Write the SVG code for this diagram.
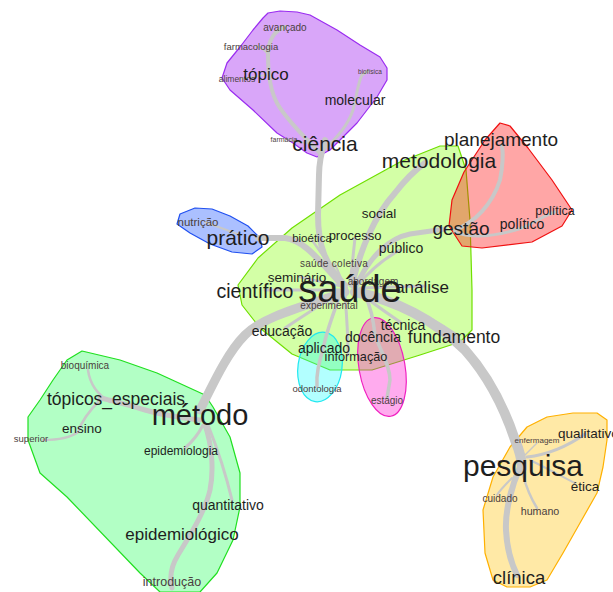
<svg xmlns="http://www.w3.org/2000/svg" width="613" height="592" viewBox="0 0 613 592">
<style>
.h{stroke-width:1.2;stroke-linejoin:round}
.e{fill:none;stroke:#c8c8c8;stroke-linecap:round;stroke-linejoin:round}
text{font-family:"Liberation Sans",Arial,sans-serif;fill:#1e1e1e;text-anchor:middle;dominant-baseline:central}
.s{fill:#4a4040}
</style>
<rect width="613" height="592" fill="#fff"/>
<g id="clusters">
<polygon id="hull-ciencia" class="h" fill="#a020f0" fill-opacity="0.4" stroke="#9a2cf0" points="268,13 280,11 297,12 310,15 337,30 360,45 380,57 387,68 387,80 377,97 367,110 357,123 343,137 330,150 317,157 307,153 293,143 277,133 253,110 230,90 222,78 227,63 240,47 253,30 263,18"/>
<polygon id="hull-pratico" class="h" fill="#0040ff" fill-opacity="0.33" stroke="#2050f0" points="180,214 195,208 212,209 230,216 248,226 260,238 262,247 252,254 232,252 210,244 190,233 177,224"/>
<polygon id="hull-saude" class="h" fill="#80ff00" fill-opacity="0.35" stroke="#70e000" points="238,285 258,258 292,228 340,195 400,162 440,146 458,146 466,170 470,220 472,290 472,330 460,342 420,355 372,370 330,370 292,354 260,328 242,305"/>
<polygon id="hull-gestao" class="h" fill="#ff0000" fill-opacity="0.35" stroke="#f01010" points="500,123 510,126 528,148 552,180 572,210 562,226 532,242 482,248 462,246 449,226 452,200 464,172 485,140"/>
<ellipse id="hull-aplicado" class="h" cx="320" cy="367" rx="22" ry="35" transform="rotate(8 320 367)" fill="#00ffff" fill-opacity="0.3" stroke="#20e8f0"/>
<ellipse id="hull-docencia" class="h" cx="382" cy="367" rx="23" ry="50" transform="rotate(-10 382 367)" fill="#ff00cc" fill-opacity="0.33" stroke="#f020c0"/>
<polygon id="hull-metodo" class="h" fill="#00ff40" fill-opacity="0.3" stroke="#20e020" points="82,351 120,360 157,373 205,395 213,407 230,437 240,473 240,507 233,540 217,573 200,592 160,592 140,573 67,497 40,473 28,440 28,417 40,400 53,380 67,360"/>
<polygon id="hull-pesquisa" class="h" fill="#ffc000" fill-opacity="0.35" stroke="#ffb000" points="573,413 597,413 607,420 607,440 603,467 597,493 580,523 563,553 547,580 530,587 507,587 493,580 485,553 483,510 493,477 510,447 527,427 547,417"/>
</g>
<g id="connectors">
<path class="e" stroke-width="6" d="M345,285 C325,265 318,245 318,215 L319,175 C319,160 322,150 325,140"/>
<path class="e" stroke-width="4" d="M320,153 C305,138 285,118 277,103 C270,90 268,70 268,55 C268,40 275,30 285,27"/>
<path class="e" stroke-width="2" d="M268,55 C265,50 262,47 256,46"/>
<path class="e" stroke-width="1.5" d="M266,75 L240,79"/>
<path class="e" stroke-width="3" d="M323,150 C335,140 348,125 353,110 C357,95 358,82 362,75 L368,71"/>
<path class="e" stroke-width="1.5" d="M315,145 L285,139"/>
<path class="e" stroke-width="6" d="M345,288 C320,262 305,240 285,238 L258,238"/>
<path class="e" stroke-width="2" d="M240,235 L205,222"/>
<path class="e" stroke-width="6" d="M352,285 C360,250 375,215 395,193 C405,180 415,170 425,163"/>
<path class="e" stroke-width="4" d="M455,230 C475,222 492,205 500,180 C503,165 503,152 502,145"/>
<path class="e" stroke-width="3" d="M455,232 C475,240 500,235 522,228 C535,222 545,215 555,212"/>
<path class="e" stroke-width="5" d="M355,288 C370,255 390,238 410,234 L445,229"/>
<path class="e" stroke-width="9" d="M345,292 C310,305 265,315 245,335 C228,352 215,380 200,410"/>
<path class="e" stroke-width="5" d="M200,420 C185,418 165,416 145,410 C125,404 110,400 100,398"/>
<path class="e" stroke-width="2.5" d="M110,402 C98,395 90,385 88,370"/>
<path class="e" stroke-width="2.5" d="M100,400 C90,410 82,420 78,432 C70,438 55,440 43,440"/>
<path class="e" stroke-width="3" d="M203,425 C198,435 192,442 185,448"/>
<path class="e" stroke-width="5" d="M205,425 C212,445 214,470 210,490 C205,512 190,535 178,555 C170,568 170,580 172,588"/>
<path class="e" stroke-width="3" d="M208,425 C218,450 226,475 232,500"/>
<path class="e" stroke-width="5" d="M360,292 C395,300 425,315 455,335"/>
<path class="e" stroke-width="10" d="M355,292 C395,300 435,320 465,350 C490,378 505,410 515,440 C520,452 522,460 522,468"/>
<path class="e" stroke-width="6" d="M520,467 C512,485 505,510 506,530 C507,550 512,565 517,575"/>
<path class="e" stroke-width="3" d="M527,457 C545,455 565,448 585,434"/>
<path class="e" stroke-width="2" d="M530,460 C550,470 565,478 575,483"/>
<path class="e" stroke-width="2.5" d="M523,475 C527,490 532,500 537,508"/>
<path class="e" stroke-width="2" d="M512,478 C505,485 500,490 497,495"/>
<path class="e" stroke-width="1.5" d="M525,455 L537,443"/>
<path class="e" stroke-width="3.5" d="M340,295 C333,315 327,330 324,345 C320,360 316,372 317,386"/>
<path class="e" stroke-width="3.5" d="M365,295 C372,310 374,325 375,335 C380,350 390,365 390,380 L387,398"/>
<path class="e" stroke-width="3" d="M345,295 C347,320 348,340 348,355"/>
<path class="e" stroke-width="3" d="M340,293 C320,305 300,318 285,328"/>
<path class="e" stroke-width="3" d="M360,293 C375,305 390,315 400,322"/>
<path class="e" stroke-width="3" d="M340,290 L265,290"/>
<path class="e" stroke-width="3" d="M350,285 C360,255 370,230 378,215"/>
<path class="e" stroke-width="3" d="M355,288 C370,270 385,258 400,250"/>
<path class="e" stroke-width="3" d="M350,285 L355,238"/>
<path class="e" stroke-width="3" d="M360,288 L425,286"/>
<path class="e" stroke-width="2.5" d="M345,287 L300,277"/>
<path class="e" stroke-width="2" d="M345,287 L335,264"/>
<path class="e" stroke-width="2" d="M345,292 L330,304"/>
<path class="e" stroke-width="2.5" d="M345,287 L312,240"/>
</g>
<g id="nodes">
<g id="n-avancado"><text class="s" x="285" y="27" font-size="10">avançado</text></g>
<g id="n-farmacologia"><text class="s" x="251" y="46" font-size="9.5">farmacologia</text></g>
<g id="n-alimentos"><text class="s" x="237" y="79" font-size="8.5">alimentos</text></g>
<g id="n-topico"><text x="266" y="74" font-size="17">tópico</text></g>
<g id="n-biofisica"><text class="s" x="370" y="71" font-size="6.5">biofísica</text></g>
<g id="n-molecular"><text x="355" y="100" font-size="14">molecular</text></g>
<g id="n-farmacia"><text class="s" x="284" y="139" font-size="7">farmácia</text></g>
<g id="n-ciencia"><text x="325" y="143" font-size="21">ciência</text></g>
<g id="n-nutricao"><text class="s" x="198" y="222" font-size="11.5">nutrição</text></g>
<g id="n-pratico"><text x="238" y="237" font-size="21">prático</text></g>
<g id="n-planejamento"><text x="501" y="139" font-size="19">planejamento</text></g>
<g id="n-metodologia"><text x="439" y="160" font-size="21">metodologia</text></g>
<g id="n-social"><text x="379" y="213" font-size="13.5">social</text></g>
<g id="n-bioetica"><text x="312" y="238" font-size="11.5">bioética</text></g>
<g id="n-processo"><text x="355" y="235" font-size="13">processo</text></g>
<g id="n-publico"><text x="401" y="248" font-size="14">público</text></g>
<g id="n-gestao"><text x="461" y="228" font-size="19">gestão</text></g>
<g id="n-politico"><text x="522" y="224" font-size="14">político</text></g>
<g id="n-politica"><text x="555" y="211" font-size="12.5">política</text></g>
<g id="n-saude-coletiva"><text class="s" x="334" y="263" font-size="10" letter-spacing="0.3">saúde coletiva</text></g>
<g id="n-seminario"><text x="297" y="277" font-size="13.5">seminário</text></g>
<g id="n-abordagem"><text class="s" x="373" y="281" font-size="10">abordagem</text></g>
<g id="n-analise"><text x="449" y="287" font-size="17" style="text-anchor:end">análise</text></g>
<g id="n-cientifico"><text x="255" y="291" font-size="19.5">científico</text></g>
<g id="n-saude"><text x="350" y="289" font-size="38">saúde</text></g>
<g id="n-experimental"><text class="s" x="329" y="305" font-size="10">experimental</text></g>
<g id="n-tecnica"><text x="403" y="325" font-size="14">técnica</text></g>
<g id="n-fundamento"><text x="454" y="337" font-size="17.5">fundamento</text></g>
<g id="n-educacao"><text x="282" y="331" font-size="14">educação</text></g>
<g id="n-docencia"><text x="373" y="337" font-size="14">docência</text></g>
<g id="n-aplicado"><text x="324" y="348" font-size="14">aplicado</text></g>
<g id="n-informacao"><text x="356" y="357" font-size="12.7">informação</text></g>
<g id="n-odontologia"><text class="s" x="317" y="388" font-size="9.5">odontologia</text></g>
<g id="n-estagio"><text class="s" x="387" y="400" font-size="10">estágio</text></g>
<g id="n-bioquimica"><text class="s" x="85" y="365" font-size="10">bioquímica</text></g>
<g id="n-topicos-especiais"><text x="116" y="399" font-size="17.5">tópicos_especiais</text></g>
<g id="n-metodo"><text x="200" y="415" font-size="29">método</text></g>
<g id="n-ensino"><text x="82" y="428" font-size="13.5">ensino</text></g>
<g id="n-superior"><text class="s" x="31" y="438" font-size="9.5">superior</text></g>
<g id="n-epidemiologia"><text x="181" y="451" font-size="12">epidemiologia</text></g>
<g id="n-quantitativo"><text x="228" y="505" font-size="14">quantitativo</text></g>
<g id="n-epidemiologico"><text x="182" y="534" font-size="17">epidemiológico</text></g>
<g id="n-introducao"><text class="s" x="172" y="582" font-size="12.5">introdução</text></g>
<g id="n-qualitativo"><text x="558" y="433" font-size="13.5" style="text-anchor:start">qualitativo</text></g>
<g id="n-enfermagem"><text class="s" x="537" y="440" font-size="8">enfermagem</text></g>
<g id="n-pesquisa"><text x="523" y="465" font-size="30">pesquisa</text></g>
<g id="n-etica"><text x="585" y="486" font-size="13.5">ética</text></g>
<g id="n-cuidado"><text class="s" x="500" y="498" font-size="10">cuidado</text></g>
<g id="n-humano"><text class="s" x="540" y="511" font-size="10.7">humano</text></g>
<g id="n-clinica"><text x="519" y="577" font-size="18.5">clínica</text></g>
</g>
</svg>
